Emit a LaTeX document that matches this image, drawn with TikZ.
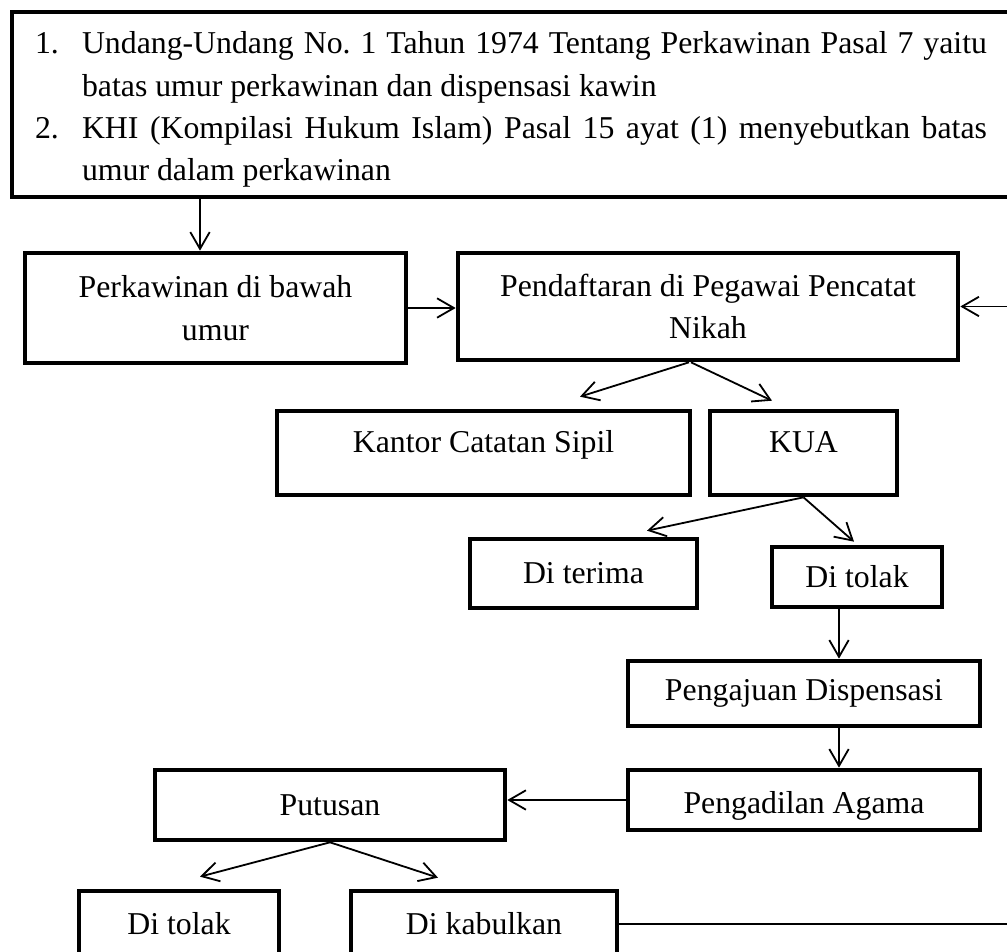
\documentclass[tikz,border=0pt]{standalone}
\usepackage{fontspec}
\setmainfont{Liberation Serif}
\usetikzlibrary{arrows.meta,calc}
\newcommand{\px}{0.387pt}

\tikzset{
  flowbox/.style={draw, line width=1.8pt, inner sep=0pt, align=center},
  boxdim/.style 2 args={minimum width={#1*\px}, minimum height={#2*\px}},
  toptext/.style={text height=9pt, text depth=9pt},
  lowtext/.style={text height=13pt, text depth=2.7pt},
  flowarrow/.style={line width=0.7pt, -{Straight Barb[length=6.5pt,width=7.5pt]}},
}

\begin{document}
\frenchspacing
\begin{tikzpicture}[x=\px, y=-\px, font=\fontsize{12.3}{16.4}\selectfont]
  \useasboundingbox (0,0) rectangle (1007,952);
  \clip (0,0) rectangle (1007,952);
  % dasar hukum
  \node[flowbox, boxdim={998}{185}, text width=368.4pt, align=justify] (hukum) at (511,104.5)
    {\hyphenpenalty=10000\exhyphenpenalty=10000\tolerance=9999\hbadness=10000
     \hangindent=18.2pt\hangafter=1\noindent\rule{0pt}{12.5pt}\makebox[18.2pt][l]{1.}Undang-Undang No. 1 Tahun 1974 Tentang Perkawinan Pasal 7 yaitu batas umur perkawinan dan dispensasi kawin\par
     \hangindent=18.2pt\hangafter=1\noindent\makebox[18.2pt][l]{2.}KHI (Kompilasi Hukum Islam) Pasal 15 ayat (1) menyebutkan batas\linebreak umur dalam perkawinan\par};
  % alur
  \node[flowbox, boxdim={381}{110}] (perkawinan) at (215.5,308) {Perkawinan di bawah\\umur};
  \node[flowbox, boxdim={500}{107}] (pendaftaran) at (708,306.5) {Pendaftaran di Pegawai Pencatat\\Nikah};
  \node[flowbox, boxdim={413}{84}, toptext] (kantor) at (483.5,453) {Kantor Catatan Sipil};
  \node[flowbox, boxdim={187}{84}, toptext] (kua) at (803.5,453) {KUA};
  \node[flowbox, boxdim={227}{69}] (diterima) at (583.5,573.5) {Di terima};
  \node[flowbox, boxdim={170}{60}] (ditolak) at (857,577) {Di tolak};
  \node[flowbox, boxdim={352}{65}] (pengajuan) at (804,693.5) {Pengajuan Dispensasi};
  \node[flowbox, boxdim={352}{60}, lowtext] (pengadilan) at (804,800) {Pengadilan Agama};
  \node[flowbox, boxdim={350}{70}] (putusan) at (330,805) {Putusan};
  \node[flowbox, boxdim={200}{66}] (ditolakdua) at (179,924) {Di tolak};
  \node[flowbox, boxdim={266}{66}] (dikabulkan) at (484,924) {Di kabulkan};

  \coordinate (kiri) at (200,0);
  \coordinate (tengah) at (839,0);
  \coordinate (balik) at (1040,0);

  % panah
  \draw[flowarrow] (hukum.south -| kiri) -- (perkawinan.north -| kiri);
  \draw[flowarrow] (perkawinan.east) -- (perkawinan.east -| pendaftaran.west);
  \draw[flowarrow] ($(pendaftaran.south)+(-19,0)$) -- ($(kantor.north)+(96.5,-12)$);
  \draw[flowarrow] ($(pendaftaran.south)+(-17,0)$) -- ($(kua.north)+(-31.5,-8)$);
  \draw[flowarrow] (kua.south) -- ($(diterima.north)+(63.5,-6)$);
  \draw[flowarrow] (kua.south) -- ($(ditolak.north)+(-3,-3)$);
  \draw[flowarrow] (ditolak.south -| tengah) -- (pengajuan.north -| tengah);
  \draw[flowarrow] (pengajuan.south -| tengah) -- (pengadilan.north -| tengah);
  \draw[flowarrow] (pengadilan.west) -- (pengadilan.west -| putusan.east);
  \draw[flowarrow] (putusan.south) -- ($(ditolakdua.north)+(21,-12)$);
  \draw[flowarrow] (putusan.south) -- ($(dikabulkan.north)+(-46,-11)$);
  \draw[flowarrow] (dikabulkan.east) -- (dikabulkan.east -| balik) |- (pendaftaran.east);
\end{tikzpicture}
\end{document}
